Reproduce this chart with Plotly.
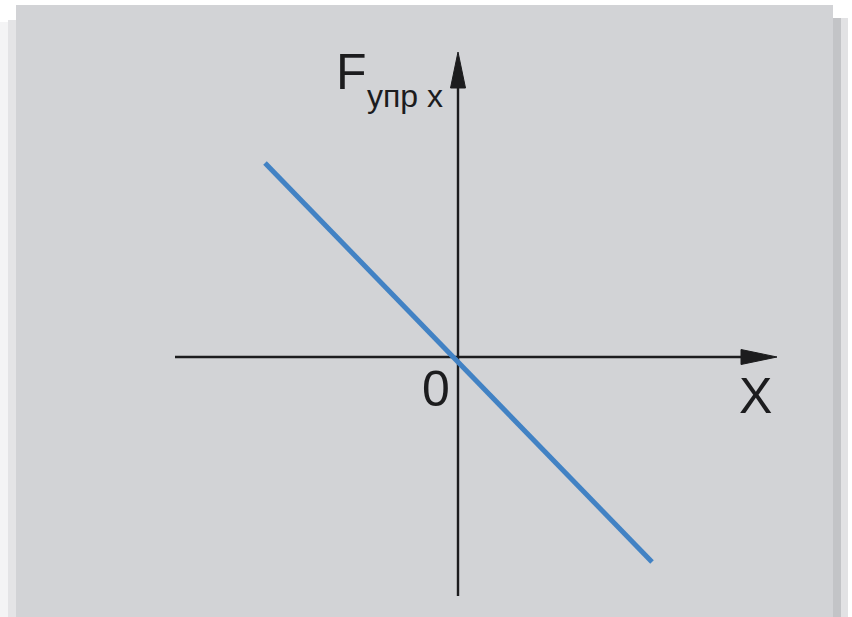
import plotly.graph_objects as go

# данные: прямая F_упр x = -k x (единицы условные)
line_x = [-3.86, 3.88]
line_y = [3.88, -4.10]

# оси: от начала до острия стрелки
x_axis = [-5.66, 6.38]
y_axis = [-4.78, 6.10]

label_f = 'F'
label_sub = 'упр x'
label_x = 'X'
label_0 = '0'

W, H = 852, 617
PX = 50.0          # пикселей на единицу
OX, OY = 458, 357  # положение начала координат на картинке


def dx(px):
    return (px - OX) / PX


def dy(py):
    return (OY - py) / PX


def rect(x0, x1, y0, y1, color):
    # прямоугольник фона в пикселях картинки
    return dict(type='rect', xref='paper', yref='paper', x0=x0 / W, x1=x1 / W,
                y0=1 - y1 / H, y1=1 - y0 / H, fillcolor=color, line_width=0, layer='below')


fig = go.Figure()

# оси
fig.add_trace(go.Scatter(x=[x_axis[0], x_axis[1] - 0.5], y=[0, 0], mode='lines',
                         line=dict(color='#1c1c1e', width=2.4), hoverinfo='skip'))
fig.add_trace(go.Scatter(x=[0, 0], y=[y_axis[0], y_axis[1] - 0.5], mode='lines',
                         line=dict(color='#1c1c1e', width=2.4), hoverinfo='skip'))

# прямая
fig.add_trace(go.Scatter(x=line_x, y=line_y, mode='lines',
                         line=dict(color='#4282c4', width=5), hoverinfo='skip'))

# стрелки
hl, hw = 0.72, 0.15
tx = x_axis[1]
ty = y_axis[1]
shapes = [
    # тени по краям фото
    rect(0, 8, 22, H, '#f4f4f5'),
    rect(8, 16, 20, H, '#e4e4e6'),
    rect(833, 841, 18, H, '#c3c4c7'),
    rect(841, 848, 18, H, '#e2e2e4'),
    # страница
    rect(16, 833, 5, H, '#d2d3d6'),
    dict(type='path', path=f'M{tx},0 L{tx - hl},{hw} L{tx - hl},{-hw} Z',
         fillcolor='#1c1c1e', line=dict(color='#1c1c1e', width=1)),
    dict(type='path', path=f'M0,{ty} L{hw},{ty - hl} L{-hw},{ty - hl} Z',
         fillcolor='#1c1c1e', line=dict(color='#1c1c1e', width=1)),
]

font = 'Liberation Sans, Arial, sans-serif'
ann = [
    dict(x=dx(351), y=dy(72), text=label_f, font=dict(size=50, color='#1c1c1e', family=font)),
    dict(x=dx(405), y=dy(96), text=label_sub, font=dict(size=32, color='#1c1c1e', family=font)),
    dict(x=dx(436), y=dy(389), text=label_0, font=dict(size=50, color='#1c1c1e', family=font)),
    dict(x=dx(755), y=dy(396), text=label_x, font=dict(size=50, color='#1c1c1e', family=font)),
]
for a in ann:
    a.update(xref='x', yref='y', showarrow=False, xanchor='center', yanchor='middle')

fig.update_layout(
    width=W, height=H,
    margin=dict(l=0, r=0, t=0, b=0),
    paper_bgcolor='white', plot_bgcolor='rgba(0,0,0,0)',
    showlegend=False,
    shapes=shapes, annotations=ann,
    xaxis=dict(range=[dx(0), dx(W)], visible=False, fixedrange=True),
    yaxis=dict(range=[dy(H), dy(0)], visible=False, fixedrange=True),
)

fig.write_html('out.html', config={'displayModeBar': False},
               post_script="document.body.style.margin='0';document.body.style.overflow='hidden';")
